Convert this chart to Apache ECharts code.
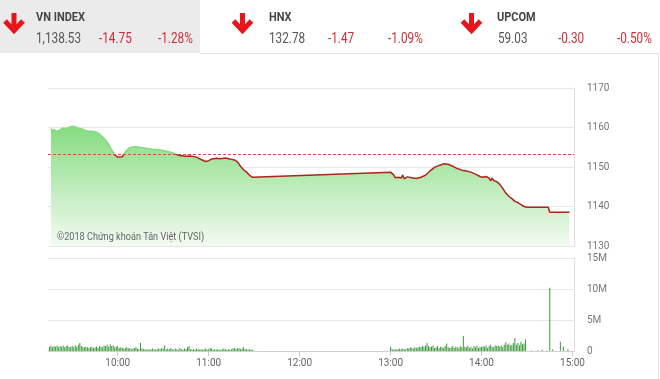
<!DOCTYPE html>
<html><head><meta charset="utf-8">
<script src="https://cdn.jsdelivr.net/npm/echarts@6/dist/echarts.min.js"></script>
<style>html,body{margin:0;padding:0;background:#fff;}#c{width:660px;height:379px;}</style>
</head><body><div id="c"></div>
<script>
// ---------- data ----------
const refPrice = 1153.28;
const priceTimes = ['09:16','09:17','09:18','09:19','09:20','09:22','09:24','09:26','09:28','09:30','09:32','09:34','09:36','09:38','09:40','09:44','09:46','09:48','09:50','09:52','09:54','09:56','09:58','10:00','10:01','10:03','10:05','10:07','10:09','10:12','10:16','10:20','10:24','10:28','10:32','10:36','10:40','10:44','10:48','10:52','10:55','10:58','11:00','11:02','11:05','11:08','11:11','11:14','11:17','11:19','11:21','11:23','11:25','11:27','11:29',
  '13:00','13:02','13:03','13:05','13:07','13:08','13:09','13:11','13:14','13:17','13:20','13:23','13:26','13:29','13:32','13:35','13:38','13:41','13:44','13:47','13:50','13:53','13:56','13:59','14:01','14:03','14:05','14:06','14:07','14:08','14:09','14:10','14:12','14:14','14:16','14:18','14:20','14:22','14:24','14:26','14:28','14:30','14:44','14:45','14:58'];
const priceValues = [1159.8,1158.9,1159.6,1159.0,1159.5,1159.4,1159.9,1159.7,1160.1,1160.3,1160.2,1159.8,1159.7,1159.3,1159.1,1159.0,1158.8,1158.3,1157.6,1156.8,1155.7,1154.3,1153.1,1152.5,1152.0,1152.6,1153.8,1154.7,1155.0,1155.1,1154.9,1154.7,1154.4,1154.3,1154.0,1153.6,1153.0,1152.7,1152.8,1152.5,1151.9,1151.4,1151.6,1152.0,1152.2,1152.1,1152.3,1152.0,1151.8,1151.3,1150.2,1149.3,1148.7,1147.9,1147.4,
  1148.7,1148.0,1147.3,1147.4,1147.2,1148.0,1147.0,1147.5,1147.3,1147.1,1147.4,1147.9,1149.0,1149.9,1150.4,1150.8,1150.7,1150.2,1149.6,1149.2,1149.0,1148.7,1148.2,1147.6,1147.4,1147.6,1147.2,1146.5,1147.2,1146.6,1147.0,1146.3,1145.6,1144.6,1143.4,1142.6,1142.0,1141.3,1141.0,1140.5,1140.0,1139.8,1139.8,1138.53,1138.53];

const volMorningStart = '09:15';
const volMorning = [0.7,0.9,0.6,0.8,0.7,0.9,0.6,0.8,0.7,0.9,
  0.6,0.8,0.9,0.6,0.7,0.8,0.6,0.9,0.7,1.0,
  1.3,0.8,0.7,0.6,0.7,0.6,0.5,0.6,0.7,0.5,
  0.6,0.7,0.5,0.8,0.7,0.6,0.9,0.8,1.0,0.7,
  1.1,0.8,0.9,0.6,0.7,0.8,0.5,0.6,0.5,0.4,
  0.5,0.6,0.4,0.5,0.3,0.4,0.5,0.6,0.4,0.3,
  1.3,0.4,0.3,0.3,0.2,0.3,0.2,0.3,0.4,0.3,
  0.2,0.3,0.4,0.3,0.5,0.4,0.9,0.3,0.4,0.3,
  0.5,0.3,0.2,0.4,0.3,0.2,0.5,0.3,0.2,0.4,
  0.3,0.6,0.8,0.3,0.2,0.3,0.2,0.4,0.3,0.2,
  0.3,0.2,0.3,0.4,0.2,0.3,0.5,0.4,0.2,0.3,
  0.2,0.3,0.2,0.2,0.3,0.4,0.3,0.2,0.3,0.2,
  0.3,0.4,0.5,0.3,0.4,0.5,0.3,0.4,0.6,0.3,
  0.3,0.2,0.3,0.2,0.2];
const volAfternoonStart = '13:00';
const volAfternoon = [0.7,0.3,0.2,0.3,0.2,0.3,0.4,0.3,0.4,0.3,
  0.3,0.5,0.4,0.6,0.5,0.4,0.6,0.5,0.6,0.7,
  0.6,0.8,0.7,0.9,1.3,0.8,0.6,0.7,0.9,0.5,
  0.6,0.8,0.5,0.7,0.6,0.5,0.8,1.2,0.6,0.5,
  0.6,0.8,0.5,0.7,0.6,0.5,0.8,0.6,2.4,0.7,
  0.6,0.9,0.5,0.7,0.4,0.8,0.6,0.9,0.5,0.7,
  0.6,0.8,0.7,0.9,0.5,0.8,1.0,0.7,0.6,0.9,
  0.8,0.9,0.7,0.9,0.6,1.0,1.4,1.0,1.2,0.9,
  1.0,1.3,2.1,1.0,1.3,0.9,1.5,1.1,1.2,1.9];
const volLateTimes = ['14:33','14:37','14:40','14:43','14:45','14:47','14:52','14:54','14:57'];
const volLateValues = [0.1,0.1,0.2,0.1,10.2,0.3,1.5,0.7,0.3];

const hourTicks = ['10:00','11:00','12:00','13:00','14:00','15:00'];
const priceTicks = [1130,1140,1150,1160,1170];
const volTicks = [0,5,10,15];

const indexNames = ['VN INDEX','HNX','UPCOM'];
const indexValues = ['1,138.53','132.78','59.03'];
const indexChanges = ['-14.75','-1.47','-0.30'];
const indexPercents = ['-1.28%','-1.09%','-0.50%'];
const copyright = '©2018 Chứng khoán Tân Việt (TVSI)';

// ---------- helpers ----------
const toMin = s => { const p = s.split(':').map(Number); return p[0]*60 + p[1]; };
const fmtMin = m => String(Math.floor(m/60)).padStart(2,'0') + ':' + String(Math.round(m)%60).padStart(2,'0');
const X_MIN = toMin('09:14'), X_MAX = toMin('15:01');

const priceData = priceTimes.map((t,i) => [toMin(t), priceValues[i]]);
const volData = [];
volMorning.forEach((v,i) => volData.push([toMin(volMorningStart)+i, v]));
volAfternoon.forEach((v,i) => volData.push([toMin(volAfternoonStart)+i, v]));
volLateTimes.forEach((t,i) => volData.push([toMin(t), volLateValues[i]]));

const FONT = "Roboto,sans-serif";

// ---------- header graphics ----------
const titleX = [36, 269, 497];
const valX = [36, 269, 498];
const chgX = [99, 328, 558];
const pctX = [158, 388, 617];
const arrowX = [14, 242.5, 471.5];
const RED = '#e8151b';
function txt(s, x, y, font, fill, sx) {
  return {type:'text', x:x, y:y, scaleX:sx, z:100,
    style:{text:s, x:0, y:0, font:font, fill:fill, textVerticalAlign:'middle', verticalAlign:'middle'}};
}
const graphics = [
  {type:'rect', shape:{x:0,y:0,width:200,height:53}, style:{fill:'#ebebeb'}, z:0},
  {type:'line', shape:{x1:200,y1:53.5,x2:658,y2:53.5}, style:{stroke:'#e3e3e3',lineWidth:1}},
  {type:'line', shape:{x1:658.5,y1:53,x2:658.5,y2:379}, style:{stroke:'#e8e8e8',lineWidth:1}},
];
indexNames.forEach((n,i) => {
  const cx = arrowX[i];
  graphics.push({type:'polyline', shape:{points:[[cx,13],[cx,30]]}, style:{stroke:RED,lineWidth:5,fill:null}});
  graphics.push({type:'polyline', shape:{points:[[cx-9,21],[cx,30.5],[cx+9,21]]}, style:{stroke:RED,lineWidth:5,fill:null,lineJoin:'miter'}});
  graphics.push(txt(n, titleX[i], 17.5, "bold 12.5px "+FONT, '#454545', 0.88));
  graphics.push(txt(indexValues[i], valX[i], 39, "14px "+FONT, '#555', 0.84));
  graphics.push(txt(indexChanges[i], chgX[i], 39, "14px "+FONT, '#cc2e37', 0.84));
  graphics.push(txt(indexPercents[i], pctX[i], 39, "14px "+FONT, '#cc2e37', 0.84));
});
graphics.push(txt(copyright, 57, 237, "10.5px "+FONT, '#666', 0.87));

const chart = echarts.init(document.getElementById('c'), null, {renderer:'canvas'});
chart.setOption({
  animation:false,
  backgroundColor:'#fff',
  graphic: graphics,
  grid:[
    {left:48, top:88, width:526, height:158},
    {left:48, top:258, width:526, height:93}
  ],
  visualMap:{show:false, seriesIndex:0, dimension:1,
    pieces:[{gte:1000, lt:refPrice, color:'#ad251c'},{gte:refPrice, lte:1300, color:'#84d97e'}],
    outOfRange:{color:'#84d97e'}},
  xAxis:[
    {type:'value', gridIndex:0, min:X_MIN, max:X_MAX, show:false, splitLine:{show:false}},
    {type:'value', gridIndex:1, min:X_MIN, max:X_MAX,
      axisLine:{show:true, lineStyle:{color:'#d0d0d0'}},
      axisTick:{show:true, customValues:hourTicks.map(toMin), length:5, lineStyle:{color:'#ccc'}},
      axisLabel:{customValues:hourTicks.map(toMin), formatter:v=>fmtMin(v), color:'#666', fontSize:10, fontFamily:FONT, margin:7},
      splitLine:{show:false}}
  ],
  yAxis:[
    {type:'value', gridIndex:0, position:'right', min:priceTicks[0], max:priceTicks[priceTicks.length-1], interval:10,
      axisLine:{show:true, lineStyle:{color:'#dedede'}}, axisTick:{show:false},
      axisLabel:{color:'#777', fontSize:10, fontFamily:FONT, margin:13, formatter:v=>String(v)},
      splitLine:{show:true, lineStyle:{color:'#e6e6e6'}}},
    {type:'value', gridIndex:1, position:'right', min:volTicks[0], max:volTicks[volTicks.length-1], interval:5,
      axisLine:{show:true, lineStyle:{color:'#dedede'}}, axisTick:{show:false},
      axisLabel:{color:'#777', fontSize:10, fontFamily:FONT, margin:13, formatter:v=> v===0 ? '0' : v+'M'},
      splitLine:{show:true, lineStyle:{color:'#e6e6e6'}}}
  ],
  series:[
    {type:'line', xAxisIndex:0, yAxisIndex:0, data:priceData, showSymbol:false, symbol:'none',
      lineStyle:{width:1.5},
      areaStyle:{opacity:1, color:new echarts.graphic.LinearGradient(0,0,0,1,[{offset:0,color:'#86dc80'},{offset:1,color:'#f3fbf2'}])},
      markLine:{silent:true, symbol:'none', label:{show:false},
        lineStyle:{color:'#e04848', type:[3,2], width:1},
        data:[{yAxis:refPrice}]}},
    {type:'bar', xAxisIndex:1, yAxisIndex:1, data:volData, barWidth:1, itemStyle:{color:'#3a9a3a'}}
  ]
});
</script>
</body></html>
